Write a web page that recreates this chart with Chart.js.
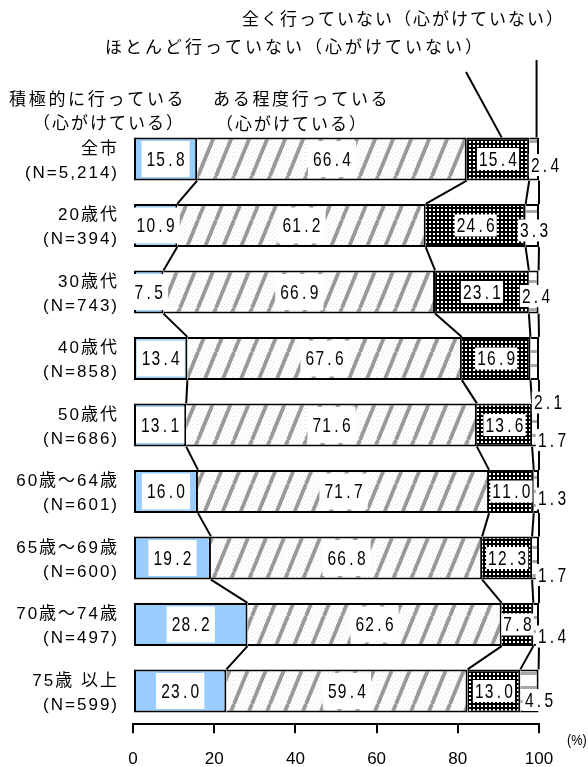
<!DOCTYPE html>
<html><head><meta charset="utf-8">
<script src="https://cdn.jsdelivr.net/npm/chart.js@4/dist/chart.umd.min.js"></script>
<style>html,body{margin:0;padding:0;background:#fff}#wrap{width:588px;height:767px;position:relative}</style>
</head><body><div id="wrap"><canvas id="c" width="588" height="767"></canvas></div>
<script>
// ---- data ----
const groups = ['全市','20歳代','30歳代','40歳代','50歳代','60歳～64歳','65歳～69歳','70歳～74歳','75歳 以上'];
const sampleSizes = ['(N=5,214)','(N=394)','(N=743)','(N=858)','(N=686)','(N=601)','(N=600)','(N=497)','(N=599)'];
const seriesNames = ['積極的に行っている（心がけている）','ある程度行っている（心がけている）','ほとんど行っていない（心がけていない）','全く行っていない（心がけていない）'];
const activeValues   = [15.8, 10.9,  7.5, 13.4, 13.1, 16.0, 19.2, 28.2, 23.0];
const somewhatValues = [66.4, 61.2, 66.9, 67.6, 71.6, 71.7, 66.8, 62.6, 59.4];
const rarelyValues   = [15.4, 24.6, 23.1, 16.9, 13.6, 11.0, 12.3,  7.8, 13.0];
const neverValues    = [ 2.4,  3.3,  2.4,  2.1,  1.7,  1.3,  1.7,  1.4,  4.5];
const xTickValues = [0, 20, 40, 60, 80, 100];
const unitLabel = '(%)';

// ---- styling helpers ----
const LATIN = '"Liberation Sans", "Noto Sans CJK JP", sans-serif';
const CJK = '"Noto Sans CJK JP", sans-serif';
// nudges for the small "never" labels (dx from the 100% edge, dy from bar centre)
const neverNudge = [[6,6],[-5,5],[-3,4],[9,44],[13,15],[13,7],[13,17],[13,12],[0,9]];

function makePattern(w, h, draw){
  const c = document.createElement('canvas'); c.width = w; c.height = h;
  const g = c.getContext('2d'); draw(g, w, h);
  return document.getElementById('c').getContext('2d').createPattern(c, 'repeat');
}
const hatchPattern = makePattern(18, 44, (g, w, h) => {
  g.fillStyle = '#ffffff'; g.fillRect(0, 0, w, h);
  g.fillStyle = '#e2e2e2';
  for (let y = 0; y < h; y += 2) for (let x = 0; x < w; x += 2) if (((x + y) / 2) % 2 === 0) g.fillRect(x, y, 1, 1);
  g.strokeStyle = '#999999'; g.lineWidth = 3.8;
  for (const x0 of [-w, 0, w]) { g.beginPath(); g.moveTo(x0, h); g.lineTo(x0 + w, 0); g.stroke(); }
});
const dotPattern = makePattern(4, 4, (g) => {
  g.fillStyle = '#000'; g.fillRect(0, 0, 4, 4);
  g.fillStyle = '#fff'; g.fillRect(1, 1, 2, 2);
});
const stripePattern = makePattern(4, 14, (g) => {
  g.fillStyle = '#fff'; g.fillRect(0, 0, 4, 14);
  g.fillStyle = '#a8a8a8'; g.fillRect(0, 0, 4, 3);
});

function monoText(ctx, text, cx, cy, pitch, sx){
  const w = text.length * pitch; let x = cx - w / 2 + pitch / 2;
  for (const ch of text) {
    ctx.save(); ctx.translate(x, cy); ctx.scale(sx, 1); ctx.fillText(ch, 0, 0); ctx.restore();
    x += pitch;
  }
}

const overlay = {
  id: 'overlay',
  beforeDraw(chart){
    const ys = chart.scales.y;
    if (ys && !ys._spaced) {
      const orig = ys.drawLabels;
      ys.drawLabels = function(area){
        const c = this.ctx; const prev = c.letterSpacing;
        c.letterSpacing = '2px'; orig.call(this, area); c.letterSpacing = prev;
      };
      ys._spaced = true;
    }
  },
  afterDatasetsDraw(chart){
    const ctx = chart.ctx; ctx.save();
    const metas = [0,1,2,3].map(i => chart.getDatasetMeta(i));
    const n = groups.length;
    // connector lines
    ctx.strokeStyle = '#000'; ctx.lineWidth = 2;
    for (let i = 0; i < n - 1; i++) {
      for (let k = 0; k < 4; k++) {
        const a = metas[k].data[i], b = metas[k].data[i + 1];
        ctx.beginPath(); ctx.moveTo(a.x, a.y + a.height / 2); ctx.lineTo(b.x, b.y - b.height / 2); ctx.stroke();
      }
    }
    // value labels
    const xs = chart.scales.x;
    ctx.font = '21px ' + LATIN; ctx.textAlign = 'center'; ctx.textBaseline = 'middle';
    const pitch = 9.8;
    metas.forEach((meta, k) => {
      const vals = chart.data.datasets[k].data;
      meta.data.forEach((el, i) => {
        const txt = vals[i].toFixed(1);
        let cx, cy, bw, bh;
        if (k < 3) { cx = (el.x + el.base) / 2; cy = el.y; }
        else { cx = xs.getPixelForValue(100) + neverNudge[i][0]; cy = el.y + neverNudge[i][1]; }
        const tw = txt.length * pitch;
        if (k < 2) { bw = tw + 9; bh = 36; }
        else { bw = tw + 3; bh = 22; }
        ctx.fillStyle = '#fff';
        ctx.fillRect(cx - bw / 2, cy - bh / 2, bw, bh);
        ctx.fillStyle = '#000';
        monoText(ctx, txt, cx, cy + 1, pitch, 0.74);
      });
    });
    ctx.restore();
  },
  afterDraw(chart){
    const ctx = chart.ctx; ctx.save();
    const xs = chart.scales.x;
    const first = chart.getDatasetMeta(2).data[0];
    const topY = first.y - first.height / 2;
    // series legend texts
    ctx.fillStyle = '#000'; ctx.textBaseline = 'middle'; ctx.textAlign = 'left';
    ctx.font = '17px ' + CJK;
    const n0 = seriesNames[0].split('（'), n1 = seriesNames[1].split('（');
    ctx.letterSpacing = '2.7px';
    ctx.fillText(n0[0], 9, 99);
    ctx.fillText(n1[0], 213, 99);
    ctx.letterSpacing = '2px';
    ctx.fillText('（' + n0[1], 33, 123);
    ctx.fillText('（' + n1[1], 216, 124);
    ctx.letterSpacing = '3px';
    ctx.fillText(seriesNames[2], 105, 47);
    ctx.letterSpacing = '2px';
    ctx.fillText(seriesNames[3], 242, 19);
    // leader lines
    ctx.strokeStyle = '#000'; ctx.lineWidth = 2;
    ctx.beginPath(); ctx.moveTo(466, 72); ctx.lineTo(xs.getPixelForValue(90.8), topY); ctx.stroke();
    ctx.beginPath(); ctx.moveTo(xs.getPixelForValue(99.4), 60); ctx.lineTo(xs.getPixelForValue(99.4), topY); ctx.stroke();
    // unit
    ctx.letterSpacing = '0px';
    ctx.font = '15px ' + LATIN;
    ctx.save(); ctx.translate(567, 741); ctx.scale(0.85, 1); ctx.fillText(unitLabel, 0, 0); ctx.restore();
    ctx.restore();
  }
};

const ctxMain = document.getElementById('c').getContext('2d');
const borderFirst = {top: 2, bottom: 2, left: 2, right: 2};
const borderRest = {top: 2, bottom: 2, left: 0, right: 2};
new Chart(ctxMain, {
  type: 'bar',
  data: {
    labels: groups.map((g, i) => [g, sampleSizes[i]]),
    datasets: [
      {label: seriesNames[0], data: activeValues, backgroundColor: '#99ccff', borderColor: '#000', borderWidth: borderFirst, borderSkipped: false},
      {label: seriesNames[1], data: somewhatValues, backgroundColor: hatchPattern, borderColor: '#000', borderWidth: borderRest, borderSkipped: false},
      {label: seriesNames[2], data: rarelyValues, backgroundColor: dotPattern, borderColor: '#000', borderWidth: borderRest, borderSkipped: false},
      {label: seriesNames[3], data: neverValues, backgroundColor: stripePattern, borderColor: '#000', borderWidth: borderRest, borderSkipped: false}
    ]
  },
  options: {
    indexAxis: 'y',
    responsive: false,
    animation: false,
    devicePixelRatio: 1,
    categoryPercentage: 1,
    barPercentage: 0.65,
    layout: {padding: {top: 125.75, right: 49, bottom: 0, left: 0}},
    plugins: {legend: {display: false}, tooltip: {enabled: false}, title: {display: false}},
    scales: {
      x: {
        stacked: true, min: 0, max: 100,
        afterBuildTicks(scale){ scale.ticks = xTickValues.map(v => ({value: v})); },
        afterFit(scale){ scale.height = 42.75; },
        grid: {drawOnChartArea: false, drawTicks: true, tickLength: 9, color: '#000', lineWidth: 2},
        border: {display: true, color: '#000', width: 2},
        ticks: {color: '#000', padding: 16, font: {size: 17, family: LATIN}, maxRotation: 0}
      },
      y: {
        stacked: true,
        afterFit(scale){ scale.width = 133; },
        grid: {display: false, drawTicks: false},
        border: {display: false},
        ticks: {color: '#000', padding: 14, labelOffset: 2, font: {size: 17, family: LATIN, lineHeight: '24px'}}
      }
    }
  },
  plugins: [overlay]
});
</script></body></html>
